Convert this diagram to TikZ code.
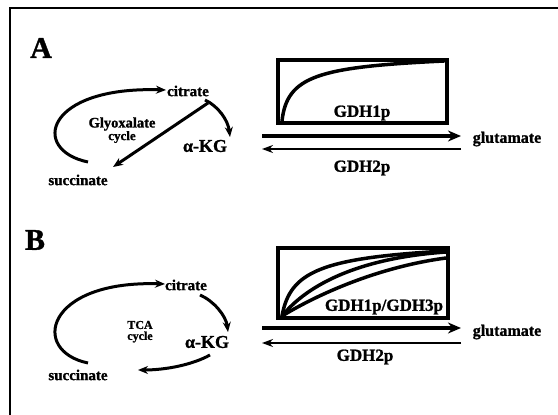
\documentclass[tikz,border=0pt]{standalone}
\usepackage{fontspec}
\setmainfont{Liberation Serif}[BoldFeatures={FakeBold=1.2}]
\usetikzlibrary{arrows.meta}
\begin{document}
\begin{tikzpicture}[x=1pt,y=-1pt,
  lbl/.style={inner sep=0pt,font=\bfseries\fontsize{15}{15}\selectfont},
  cyc/.style={inner sep=0pt,font=\bfseries\fontsize{14.5}{14.5}\selectfont},
  akg/.style={inner sep=0pt,font=\bfseries\fontsize{18}{18}\selectfont},
  enz/.style={inner sep=0pt,font=\bfseries\fontsize{17}{17}\selectfont},
  panel/.style={inner sep=0pt,font=\bfseries\fontsize{30}{30}\selectfont},
  cycarrow/.style={line width=3pt,-{Stealth[length=10pt,width=8pt]}},
  fwd/.style={line width=4pt,-{Stealth[length=13pt,width=11pt]}},
  bwd/.style={line width=2.5pt,-{Stealth[length=11pt,width=8pt]}},
  kin/.style={line width=4pt},
  curve/.style={line width=3.5pt,line cap=round}]
\useasboundingbox (0,0) rectangle (558,415);
% frame
\draw[line width=2pt] (558,8) -- (10,8) -- (10,415);

% ---------- Panel A ----------
\node[panel] (A) at (41,48) {A};
\node[lbl] (citA) at (188,91) {citrate};
\node[akg] (akgA) at (205,146) {α-KG};
\node[lbl] (sucA) at (78,180) {succinate};
\node[cyc] (glyA) at (122,124) {Glyoxalate};
\node[cyc,font=\bfseries\fontsize{13}{13}\selectfont] (cycA) at (122,137) {cycle};
\coordinate (sucAtop) at (88,162);
\coordinate (citAin) at (166,90);
\coordinate (citAout) at (205,100);
\coordinate (akgAin) at (230,137);
\coordinate (citAdiag) at (208,103);
\coordinate (sucAin) at (113,167);
\draw[cycarrow] (sucAtop) .. controls (30,150) and (45,86) .. (citAin);
\draw[cycarrow] (citAout) .. controls (218,106) and (228,120) .. (akgAin);
\draw[cycarrow] (citAdiag) -- (sucAin);

\node[draw,kin,minimum width=169pt,minimum height=63pt,inner sep=0pt] (boxA) at (362.5,91.5) {};
\draw[curve] (282,121) .. controls (287,76) and (318,67) .. (444,61);
\node[enz] (gdh1A) at (362,113) {GDH1p};
\coordinate (fA1) at (262,136);
\coordinate (fA2) at (461,136);
\coordinate (bA1) at (461,149);
\coordinate (bA2) at (262,149);
\draw[fwd] (fA1) -- (fA2);
\draw[bwd] (bA1) -- (bA2);
\node[lbl,font=\bfseries\fontsize{16}{16}\selectfont] (gluA) at (507,139) {glutamate};
\node[enz] (gdh2A) at (362,168) {GDH2p};

% ---------- Panel B ----------
\node[panel] (B) at (35,240) {B};
\node[lbl] (citB) at (186,285) {citrate};
\node[akg] (akgB) at (207,342) {α-KG};
\node[lbl] (sucB) at (78,375) {succinate};
\node[cyc,font=\bfseries\fontsize{12}{12}\selectfont] (tcaB) at (140,325) {TCA};
\node[cyc,font=\bfseries\fontsize{12}{12}\selectfont] (cycB) at (140,337) {cycle};
\coordinate (sucBtop) at (88,363);
\coordinate (citBin) at (165,284);
\coordinate (citBout) at (200,295);
\coordinate (akgBin) at (228,332);
\coordinate (akgBout) at (210,355);
\coordinate (sucBin) at (138,370);
\draw[cycarrow] (sucBtop) .. controls (30,351) and (45,280) .. (citBin);
\draw[cycarrow] (citBout) .. controls (214,301) and (226,316) .. (akgBin);
\draw[cycarrow] (akgBout) .. controls (192,365) and (165,370) .. (sucBin);

\node[draw,kin,minimum width=170pt,minimum height=70pt,inner sep=0pt] (boxB) at (363,283) {};
\draw[curve] (282,316) .. controls (290,272) and (320,258) .. (446,251);
\draw[curve] (282,316) .. controls (308,284) and (360,258) .. (446,252);
\draw[curve] (282,316) .. controls (325,290) and (385,266) .. (446,258);
\node[enz] (gdh13B) at (384,307) {GDH1p/GDH3p};
\coordinate (fB1) at (262,328);
\coordinate (fB2) at (461,328);
\coordinate (bB1) at (461,343);
\coordinate (bB2) at (262,343);
\draw[fwd] (fB1) -- (fB2);
\draw[bwd] (bB1) -- (bB2);
\node[lbl,font=\bfseries\fontsize{16}{16}\selectfont] (gluB) at (507,332) {glutamate};
\node[enz] (gdh2B) at (365,357) {GDH2p};
\end{tikzpicture}
\end{document}
